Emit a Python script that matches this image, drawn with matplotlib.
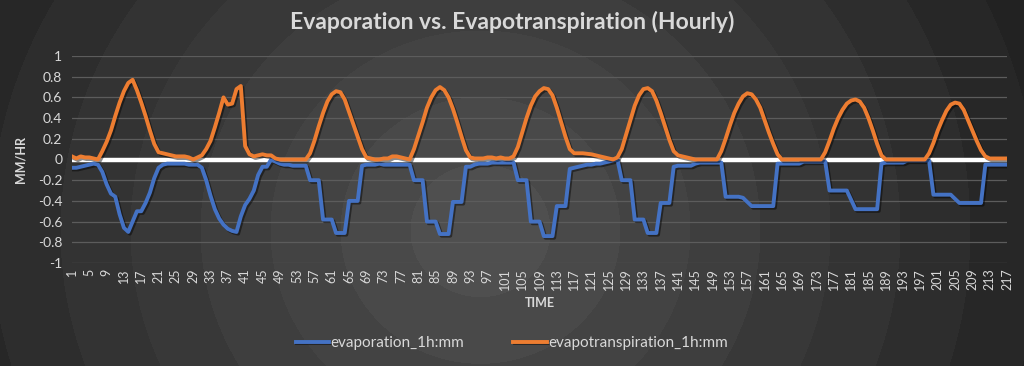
import numpy as np
import matplotlib
matplotlib.use("Agg")
import matplotlib.pyplot as plt
import matplotlib.patheffects as pe

plt.rcParams["font.family"] = ["Lato", "DejaVu Sans"]

TITLE = "Evaporation vs. Evapotranspiration (Hourly)"
SERIES_NAMES = ["evaporation_1h:mm", "evapotranspiration_1h:mm"]
COLORS = ["#4472c4", "#ed7d31"]
TEXT = "#d9d9d9"

hours = list(range(1, 218))

# hourly values, one row per ~day
evaporation = [
    -0.08, -0.08, -0.07, -0.06, -0.05, -0.04, -0.05, -0.12, -0.24, -0.33,
    -0.36, -0.53, -0.66, -0.70, -0.60, -0.50, -0.50, -0.42, -0.32, -0.18,
    -0.08, -0.05, -0.04, -0.04, -0.04, -0.04, -0.04, -0.05, -0.05, -0.05,
    -0.08, -0.20, -0.35, -0.48, -0.57, -0.63, -0.67, -0.69, -0.70, -0.55,
    -0.44, -0.38, -0.30, -0.15, -0.07, -0.07, 0.00, -0.02, -0.04, -0.05,
    -0.05, -0.06, -0.06, -0.06, -0.06, -0.20, -0.20, -0.20, -0.58, -0.58,
    -0.58, -0.71, -0.71, -0.71, -0.40, -0.40, -0.40, -0.06, -0.05, -0.05,
    -0.05, -0.04, -0.05, -0.05, -0.05, -0.05, -0.05, -0.05, -0.05, -0.20,
    -0.20, -0.20, -0.60, -0.60, -0.60, -0.72, -0.72, -0.72, -0.41, -0.41,
    -0.41, -0.07, -0.07, -0.05, -0.04, -0.04, -0.04, -0.03, -0.03, -0.03,
    -0.03, -0.03, -0.03, -0.20, -0.20, -0.20, -0.60, -0.60, -0.60, -0.74,
    -0.74, -0.74, -0.45, -0.45, -0.45, -0.09, -0.08, -0.07, -0.06, -0.05,
    -0.05, -0.04, -0.04, -0.03, -0.02, -0.01, 0.00, -0.20, -0.20, -0.20,
    -0.58, -0.58, -0.58, -0.71, -0.71, -0.71, -0.42, -0.42, -0.42, -0.07,
    -0.06, -0.06, -0.06, -0.06, -0.04, -0.03, -0.03, -0.03, -0.03, -0.03,
    -0.03, -0.36, -0.36, -0.36, -0.36, -0.37, -0.41, -0.45, -0.45, -0.45,
    -0.45, -0.45, -0.45, -0.04, -0.04, -0.04, -0.04, -0.04, -0.04, -0.02,
    -0.02, -0.02, -0.02, -0.02, -0.02, -0.30, -0.30, -0.30, -0.30, -0.30,
    -0.39, -0.48, -0.48, -0.48, -0.48, -0.48, -0.48, -0.04, -0.03, -0.03,
    -0.03, -0.03, -0.03, -0.01, -0.01, -0.01, -0.01, -0.01, -0.01, -0.34,
    -0.34, -0.34, -0.34, -0.34, -0.38, -0.42, -0.42, -0.42, -0.42, -0.42,
    -0.42, -0.05, -0.05, -0.05, -0.05, -0.05, -0.05,
]

evapotranspiration = [
    0.03, 0.01, 0.03, 0.02, 0.02, 0.01, 0.00, 0.08, 0.17, 0.28,
    0.42, 0.55, 0.66, 0.74, 0.77, 0.67, 0.55, 0.42, 0.28, 0.15,
    0.07, 0.06, 0.05, 0.04, 0.03, 0.03, 0.03, 0.02, 0.00, 0.02,
    0.04, 0.10, 0.18, 0.31, 0.45, 0.60, 0.53, 0.54, 0.68, 0.71,
    0.13, 0.05, 0.03, 0.04, 0.05, 0.04, 0.04, 0.01, 0.00, 0.00,
    0.00, 0.00, 0.00, 0.00, 0.00, 0.06, 0.18, 0.32, 0.45, 0.56,
    0.63, 0.66, 0.65, 0.58, 0.46, 0.34, 0.22, 0.10, 0.02, 0.01,
    0.00, 0.00, 0.01, 0.01, 0.03, 0.03, 0.02, 0.01, 0.00, 0.10,
    0.23, 0.36, 0.50, 0.60, 0.67, 0.70, 0.67, 0.60, 0.49, 0.36,
    0.22, 0.09, 0.02, 0.01, 0.01, 0.01, 0.02, 0.02, 0.01, 0.02,
    0.01, 0.01, 0.03, 0.12, 0.26, 0.40, 0.52, 0.61, 0.66, 0.69,
    0.68, 0.62, 0.50, 0.36, 0.22, 0.10, 0.06, 0.06, 0.06, 0.055,
    0.05, 0.04, 0.03, 0.02, 0.01, 0.00, 0.02, 0.10, 0.24, 0.38,
    0.52, 0.62, 0.68, 0.69, 0.66, 0.57, 0.45, 0.32, 0.19, 0.08,
    0.04, 0.03, 0.02, 0.01, 0.00, 0.00, 0.00, 0.00, 0.00, 0.00,
    0.08, 0.20, 0.33, 0.45, 0.54, 0.61, 0.64, 0.63, 0.58, 0.50,
    0.38, 0.26, 0.15, 0.05, 0.00, 0.00, 0.00, 0.00, 0.00, 0.00,
    0.00, 0.00, 0.00, 0.00, 0.07, 0.18, 0.30, 0.40, 0.48, 0.54,
    0.57, 0.58, 0.56, 0.50, 0.40, 0.28, 0.15, 0.04, 0.00, 0.00,
    0.00, 0.00, 0.00, 0.00, 0.00, 0.00, 0.00, 0.00, 0.06, 0.16,
    0.28, 0.38, 0.47, 0.53, 0.55, 0.54, 0.48, 0.38, 0.28, 0.18,
    0.09, 0.03, 0.01, 0.01, 0.01, 0.01, 0.01,
]

y_ticks = [-1, -0.8, -0.6, -0.4, -0.2, 0, 0.2, 0.4, 0.6, 0.8, 1]
y_tick_labels = ["-1", "-0.8", "-0.6", "-0.4", "-0.2", "0",
                 "0.2", "0.4", "0.6", "0.8", "1"]
x_ticks = list(range(1, 218, 4))

assert len(evaporation) == len(hours) == len(evapotranspiration)

W, H = 1024, 366
fig = plt.figure(figsize=(W / 100, H / 100), dpi=100)

# dark radial "rings" background, like the Excel chart style
bg = fig.add_axes([0, 0, 1, 1], zorder=-10)
yy, xx = np.mgrid[0:H, 0:W]
r = np.hypot(xx - 480, (yy - 230) * 1.05)
band = np.floor(r / 70)
shade = np.clip(0.31 - band * 0.022, 0.12, 0.32)
bg.imshow(np.dstack([shade] * 3), extent=(0, 1, 0, 1), aspect="auto")
bg.axis("off")

ax = fig.add_axes([72 / W, 1 - 263 / H, 935 / W, 207 / H])
ax.set_facecolor("none")

ax.axhline(0, color="white", lw=3.2, zorder=2)
shadow = [pe.SimpleLineShadow(offset=(1.2, -1.2), shadow_color="black", alpha=0.45),
          pe.Normal()]
for vals, name, col in zip([evaporation, evapotranspiration], SERIES_NAMES, COLORS):
    ax.plot(hours, vals, color=col, lw=2.8, label=name, zorder=3,
            solid_joinstyle="round", path_effects=shadow)

ax.set_xlim(1, 217)
ax.set_ylim(-1, 1)
ax.set_yticks(y_ticks)
ax.set_yticklabels(y_tick_labels)
ax.set_xticks(x_ticks)
ax.set_xticklabels([str(t) for t in x_ticks], rotation=90)
ax.tick_params(colors=TEXT, labelsize=10, length=0, pad=7)
ax.tick_params(axis="x", labelsize=9, pad=4)
ax.grid(axis="y", color="#5c5c5c", lw=0.9)
ax.set_axisbelow(True)
for s in ax.spines.values():
    s.set_visible(False)

ax.set_ylabel("MM/HR", color=TEXT, fontsize=9, fontweight="bold", labelpad=8)
ax.set_xlabel("TIME", color=TEXT, fontsize=9, fontweight="bold", labelpad=5)

fig.text(0.5, 1 - 22 / H, TITLE, ha="center", va="center", color=TEXT,
         fontsize=16.5, fontweight="bold")

fig.legend(loc="center", bbox_to_anchor=(0.5, 1 - 343 / H), ncol=2,
           frameon=False, fontsize=11, labelcolor=TEXT, handlelength=2.2,
           handletextpad=0.1, columnspacing=3.2)

fig.savefig("out.png", dpi=100)
